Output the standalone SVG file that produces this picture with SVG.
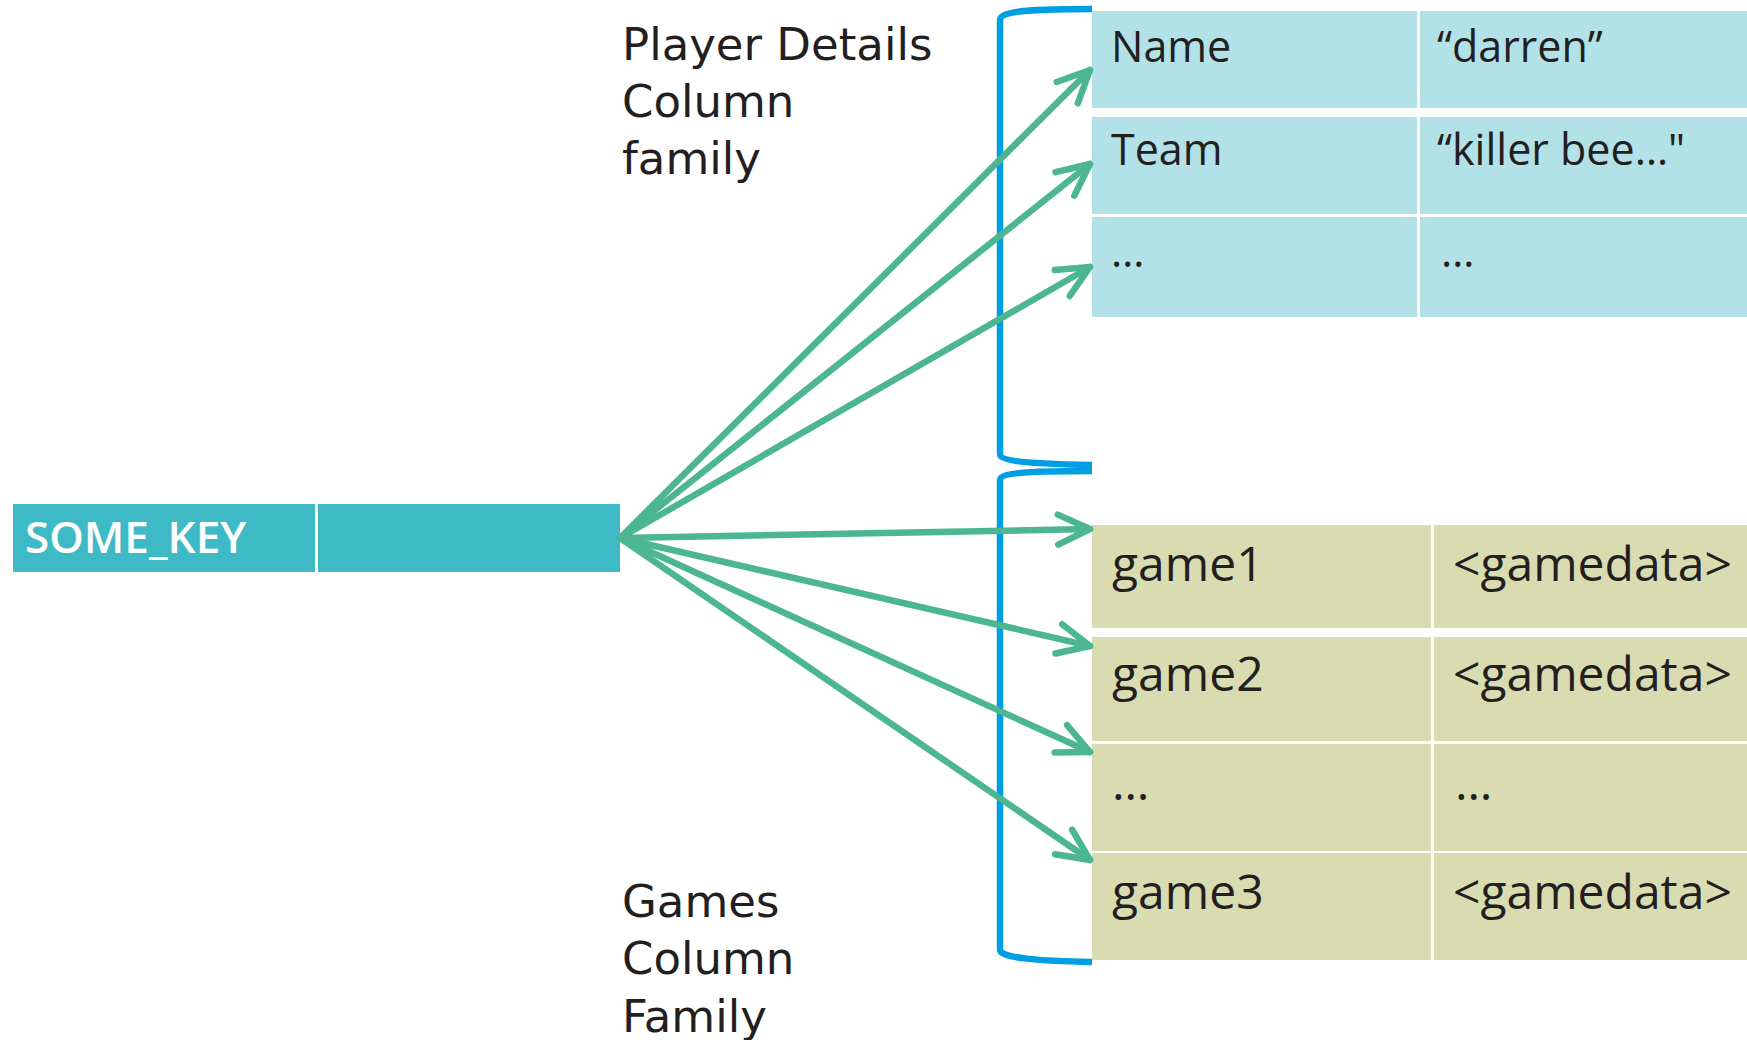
<svg xmlns="http://www.w3.org/2000/svg" width="1747" height="1040" viewBox="0 0 1747 1040">
<style>
.lbl{font-family:"DejaVu Sans","Liberation Sans",sans-serif;font-size:45px;fill:#231F20}
.cellA{fill:#B2E2E7}
.cellB{fill:#D9DCB1}
.t1{font-family:"Open Sans","Liberation Sans",sans-serif;font-size:43px;fill:#231F20}
.t2{font-family:"Open Sans","Liberation Sans",sans-serif;font-size:48px;fill:#231F20}
.key{fill:#3EBAC7}
.keytxt{font-family:"Open Sans","Liberation Sans",sans-serif;font-size:44px;font-weight:600;fill:#FFFFFF}
.brace{fill:none;stroke:#009FE3;stroke-width:6.5;stroke-linecap:butt}
.conn{fill:none;stroke:#4CB692;stroke-width:6.5;stroke-linecap:round;marker-end:url(#arr)}
</style>
<defs>
<marker id="arr" markerUnits="userSpaceOnUse" orient="auto" refX="0" refY="0" markerWidth="60" markerHeight="60" viewBox="-40 -30 50 60" overflow="visible">
<path d="M-32,-15 L0,0 L-32,15" fill="none" stroke="#4CB692" stroke-width="6.5" stroke-linecap="round" stroke-linejoin="round"/>
</marker>
</defs>
<rect width="1747" height="1040" fill="#FFFFFF"/>

<g id="label-player-details">
<text class="lbl" x="622" y="60">Player Details</text>
<text class="lbl" x="622" y="117">Column</text>
<text class="lbl" x="622" y="174">family</text>
</g>
<g id="label-games">
<text class="lbl" x="622" y="917">Games</text>
<text class="lbl" x="622" y="974">Column</text>
<text class="lbl" x="622" y="1032">Family</text>
</g>

<g id="some-key">
<rect class="key" x="13" y="504" width="302" height="68"/>
<rect class="key" x="318" y="504" width="302" height="68"/>
<text class="keytxt" x="25" y="553">SOME_KEY</text>
</g>

<g id="player-details-table">
<g id="pd-row-name">
<rect class="cellA" x="1092" y="11" width="325" height="97"/>
<rect class="cellA" x="1420" y="11" width="327" height="97"/>
<text class="t1" x="1111" y="62">Name</text>
<text class="t1" x="1437" y="62">“darren”</text>
</g>
<g id="pd-row-team">
<rect class="cellA" x="1092" y="117" width="325" height="97"/>
<rect class="cellA" x="1420" y="117" width="327" height="97"/>
<text class="t1" x="1111" y="165">Team</text>
<text class="t1" x="1437" y="165">“killer bee…&quot;</text>
</g>
<g id="pd-row-more">
<rect class="cellA" x="1092" y="217" width="325" height="100"/>
<rect class="cellA" x="1420" y="217" width="327" height="100"/>
<text class="t1" x="1111" y="267">…</text>
<text class="t1" x="1441" y="267">…</text>
</g>
</g>

<g id="games-table">
<g id="g-row-game1">
<rect class="cellB" x="1092" y="525" width="339" height="103"/>
<rect class="cellB" x="1434" y="525" width="313" height="103"/>
<text class="t2" x="1112" y="581">game1</text>
<text class="t2" x="1453" y="581">&lt;gamedata&gt;</text>
</g>
<g id="g-row-game2">
<rect class="cellB" x="1092" y="637" width="339" height="104"/>
<rect class="cellB" x="1434" y="637" width="313" height="104"/>
<text class="t2" x="1112" y="691">game2</text>
<text class="t2" x="1453" y="691">&lt;gamedata&gt;</text>
</g>
<g id="g-row-more">
<rect class="cellB" x="1092" y="744" width="339" height="107"/>
<rect class="cellB" x="1434" y="744" width="313" height="107"/>
<text class="t2" x="1112" y="800">…</text>
<text class="t2" x="1455" y="800">…</text>
</g>
<g id="g-row-game3">
<rect class="cellB" x="1092" y="853" width="339" height="107"/>
<rect class="cellB" x="1434" y="853" width="313" height="107"/>
<text class="t2" x="1112" y="909">game3</text>
<text class="t2" x="1453" y="909">&lt;gamedata&gt;</text>
</g>
</g>

<g id="brace-player-details">
<path class="brace" d="M1092,9 C1040,9 1000,10 1000,20 L1000,454 C1000,462 1040,464 1092,465"/>
</g>
<g id="brace-games">
<path class="brace" d="M1092,471 C1040,471 1000,472 1000,480 L1000,950 C1000,958 1040,961 1092,962"/>
</g>

<g id="connectors">
<line class="conn" x1="620" y1="538" x2="1090" y2="70"/>
<line class="conn" x1="620" y1="538" x2="1090" y2="164"/>
<line class="conn" x1="620" y1="538" x2="1090" y2="267"/>
<line class="conn" x1="620" y1="538" x2="1090" y2="529"/>
<line class="conn" x1="620" y1="538" x2="1090" y2="646"/>
<line class="conn" x1="620" y1="538" x2="1090" y2="752"/>
<line class="conn" x1="620" y1="538" x2="1090" y2="860"/>
</g>
</svg>
